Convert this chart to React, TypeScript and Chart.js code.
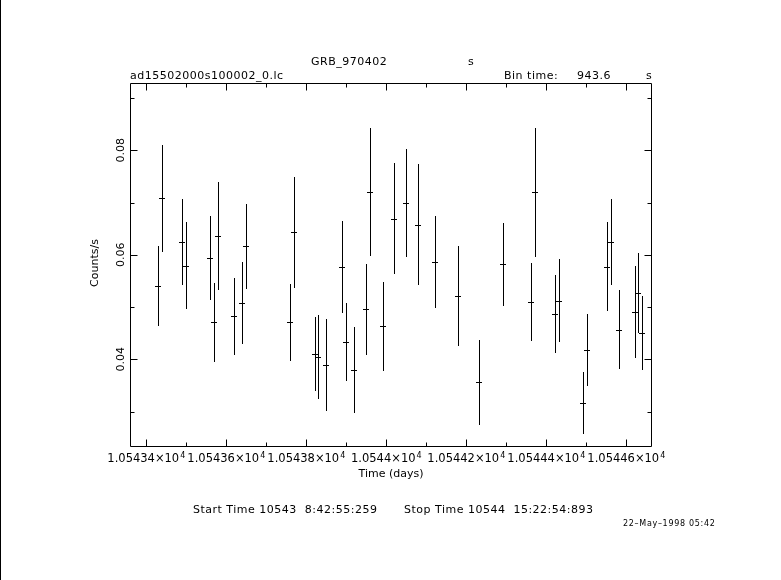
import React, { useEffect, useRef } from "react";
import { Chart, registerables } from "chart.js";

Chart.register(...registerables);

// ---- data ----
const timeDays = [
  10543.430, 10543.440, 10543.490, 10543.500, 10543.560, 10543.570, 10543.580,
  10543.620, 10543.640, 10543.650, 10543.760, 10543.770, 10543.8225, 10543.830,
  10543.850, 10543.890, 10543.900, 10543.920, 10543.950, 10543.960, 10543.9925,
  10544.020, 10544.050, 10544.080, 10544.1225, 10544.180, 10544.2325, 10544.2925,
  10544.3625, 10544.3725, 10544.4225, 10544.4325, 10544.4925, 10544.5025,
  10544.5525, 10544.5625, 10544.5825, 10544.6225, 10544.630, 10544.640,
];
const countRate = [
  0.0540, 0.0708, 0.0624, 0.0579, 0.0594, 0.0471, 0.0636,
  0.0482, 0.0508, 0.0616, 0.0471, 0.0643, 0.0410, 0.0404,
  0.0389, 0.0577, 0.0433, 0.0380, 0.0496, 0.0720, 0.0463,
  0.0669, 0.0699, 0.0658, 0.0586, 0.0521, 0.0356, 0.0582,
  0.0509, 0.0720, 0.0487, 0.0512, 0.0316, 0.0418,
  0.0577, 0.0625, 0.0457, 0.0490, 0.0527, 0.0450,
];
const countErr = [
  0.00766, 0.01021, 0.00823, 0.00833, 0.00804, 0.00753, 0.0103,
  0.00737, 0.00785, 0.0082, 0.00734, 0.01059, 0.00705, 0.0080,
  0.00877, 0.00877, 0.00753, 0.0082, 0.00868, 0.01222, 0.00849,
  0.01059, 0.0103, 0.01155, 0.00887, 0.00964, 0.0081, 0.00791,
  0.00744, 0.01234, 0.00753, 0.00791, 0.0059, 0.00686,
  0.00852, 0.0082, 0.00753, 0.00877, 0.00768, 0.00705,
];
const timeHalfBin = 0.0072;

const xMajorTicks = [10543.4, 10543.6, 10543.8, 10544.0, 10544.2, 10544.4, 10544.6];
const xMinorTicks = [10543.5, 10543.7, 10543.9, 10544.1, 10544.3, 10544.5];
const xTickMantissas = [
  "1.05434", "1.05436", "1.05438", "1.0544", "1.05442", "1.05444", "1.05446",
];
const xTickBase = "×10";
const xTickExponent = "4";
const yMajorTicks = [0.04, 0.06, 0.08];
const yMinorTicks = [0.03, 0.05, 0.07, 0.09];
const yTickLabels = ["0.04", "0.06", "0.08"];

const X_MIN = 10543.35925;
const X_MAX = 10544.66425;
const Y_MIN = 0.02322;
const Y_MAX = 0.09288;

const plotTitle = "GRB_970402";
const plotTitleUnit = "s";
const fileName = "ad15502000s100002_0.lc";
const binLabel = "Bin time:";
const binValue = "943.6";
const binUnit = "s";
const xTitle = "Time (days)";
const yTitle = "Counts/s";
const startText = "Start Time 10543  8:42:55:259";
const stopText = "Stop Time 10544  15:22:54:893";
const dateText = "22–May–1998 05:42";

const FONT = "'DejaVu Sans', sans-serif";

const px = (v: number) => Math.round(v) + 0.5;

const qdpPlugin = {
  id: "qdpPlugin",
  beforeDraw(chart: any) {
    const ctx = chart.ctx;
    ctx.save();
    ctx.fillStyle = "#ffffff";
    ctx.fillRect(0, 0, chart.width, chart.height);
    ctx.restore();
  },
  afterDatasetsDraw(chart: any) {
    const ctx = chart.ctx;
    const xs = chart.scales.x;
    const ys = chart.scales.y;
    ctx.save();
    ctx.strokeStyle = "#000";
    ctx.lineWidth = 1;
    ctx.beginPath();
    for (let i = 0; i < timeDays.length; i++) {
      const cx = px(xs.getPixelForValue(timeDays[i]));
      const cy = px(ys.getPixelForValue(countRate[i]));
      const yTop = ys.getPixelForValue(countRate[i] + countErr[i]);
      const yBot = ys.getPixelForValue(countRate[i] - countErr[i]);
      const xL = xs.getPixelForValue(timeDays[i] - timeHalfBin);
      const xR = xs.getPixelForValue(timeDays[i] + timeHalfBin);
      ctx.moveTo(cx, Math.round(yTop));
      ctx.lineTo(cx, Math.round(yBot));
      ctx.moveTo(Math.round(xL), cy);
      ctx.lineTo(Math.round(xR), cy);
    }
    ctx.stroke();
    ctx.restore();
  },
  afterDraw(chart: any) {
    const ctx = chart.ctx;
    const xs = chart.scales.x;
    const ys = chart.scales.y;
    const a = chart.chartArea;
    const L = px(a.left), R = px(a.right - 1), T = px(a.top), B = px(a.bottom - 1);
    ctx.save();
    ctx.strokeStyle = "#000";
    ctx.lineWidth = 1;
    ctx.beginPath();
    ctx.rect(L, T, R - L, B - T);
    // page left edge line
    ctx.moveTo(0.5, 0);
    ctx.lineTo(0.5, chart.height);
    const major = 7, minor = 4;
    const xt = (v: number, len: number) => {
      const p = px(xs.getPixelForValue(v));
      ctx.moveTo(p, B); ctx.lineTo(p, B - len);
      ctx.moveTo(p, T); ctx.lineTo(p, T + len);
    };
    const yt = (v: number, len: number) => {
      const p = px(ys.getPixelForValue(v));
      ctx.moveTo(L, p); ctx.lineTo(L + len, p);
      ctx.moveTo(R, p); ctx.lineTo(R - len, p);
    };
    xMajorTicks.forEach((v) => xt(v, major));
    xMinorTicks.forEach((v) => xt(v, minor));
    yMajorTicks.forEach((v) => yt(v, major));
    yMinorTicks.forEach((v) => yt(v, minor));
    ctx.stroke();

    ctx.fillStyle = "#000";
    ctx.textBaseline = "alphabetic";

    // x tick labels with raised exponent, placed from the scale's ticks
    xs.ticks.forEach((t: any, i: number) => {
      const p = xs.getPixelForValue(t.value);
      const main = xTickMantissas[i] + xTickBase;
      ctx.font = `11.5px ${FONT}`;
      const wMain = ctx.measureText(main).width;
      ctx.font = `8px ${FONT}`;
      const wExp = ctx.measureText(xTickExponent).width;
      const start = p - (wMain + 1 + wExp) / 2;
      ctx.textAlign = "left";
      ctx.font = `11.5px ${FONT}`;
      ctx.fillText(main, start, 462);
      ctx.font = `8px ${FONT}`;
      ctx.fillText(xTickExponent, start + wMain + 1, 458);
    });

    ctx.font = `11px ${FONT}`;
    // y tick labels, rotated
    yMajorTicks.forEach((v, i) => {
      const p = ys.getPixelForValue(v);
      ctx.save();
      ctx.translate(123.5, p);
      ctx.rotate(-Math.PI / 2);
      ctx.textAlign = "center";
      ctx.fillText(yTickLabels[i], 0, 0);
      ctx.restore();
    });
    // y title
    ctx.save();
    ctx.translate(98, (a.top + a.bottom) / 2 - 2);
    ctx.rotate(-Math.PI / 2);
    ctx.textAlign = "center";
    ctx.fillText(yTitle, 0, 0);
    ctx.restore();

    ctx.textAlign = "center";
    ctx.fillText(xTitle, (a.left + a.right) / 2, 477);

    ctx.textAlign = "left";
    (ctx as any).letterSpacing = "0.5px";
    ctx.fillText(plotTitle, 311, 64.5);
    ctx.fillText(plotTitleUnit, 468, 64.5);
    ctx.fillText(fileName, 130, 79);
    ctx.fillText(binLabel, 504, 79);
    ctx.fillText(binValue, 577, 79);
    ctx.fillText(binUnit, 646, 79);
    ctx.fillText(startText, 193, 513);
    ctx.fillText(stopText, 404, 513);
    ctx.font = `8px ${FONT}`;
    (ctx as any).letterSpacing = "0.7px";
    ctx.fillText(dateText, 623, 526);
    (ctx as any).letterSpacing = "0px";
    ctx.restore();
  },
};

export default function App() {
  const ref = useRef<HTMLCanvasElement | null>(null);
  useEffect(() => {
    document.body.style.margin = "0";
    const canvas = ref.current;
    if (!canvas) return;
    const chart = new Chart(canvas, {
      type: "scatter",
      data: {
        datasets: [
          {
            data: timeDays.map((t, i) => ({ x: t, y: countRate[i] })),
            pointRadius: 0,
            pointHoverRadius: 0,
            showLine: false,
          },
        ],
      },
      options: {
        animation: false,
        responsive: false,
        events: [],
        layout: { padding: { left: 0, top: 83, right: 129, bottom: 0 } },
        plugins: {
          legend: { display: false },
          tooltip: { enabled: false },
          title: { display: false },
        },
        scales: {
          x: {
            type: "linear",
            min: X_MIN,
            max: X_MAX,
            grid: { display: false, drawTicks: false },
            border: { display: false },
            afterBuildTicks: (s: any) => {
              s.ticks = xMajorTicks.map((v) => ({ value: v }));
            },
            afterFit: (s: any) => {
              s.height = 133;
            },
            ticks: { display: false },
          },
          y: {
            type: "linear",
            min: Y_MIN,
            max: Y_MAX,
            grid: { display: false, drawTicks: false },
            border: { display: false },
            afterBuildTicks: (s: any) => {
              s.ticks = yMajorTicks.map((v) => ({ value: v }));
            },
            afterFit: (s: any) => {
              s.width = 130;
            },
            ticks: { display: false },
          },
        },
      },
      plugins: [qdpPlugin],
    });
    return () => chart.destroy();
  }, []);
  return (
    <canvas ref={ref} width={781} height={580} style={{ display: "block" }} />
  );
}
